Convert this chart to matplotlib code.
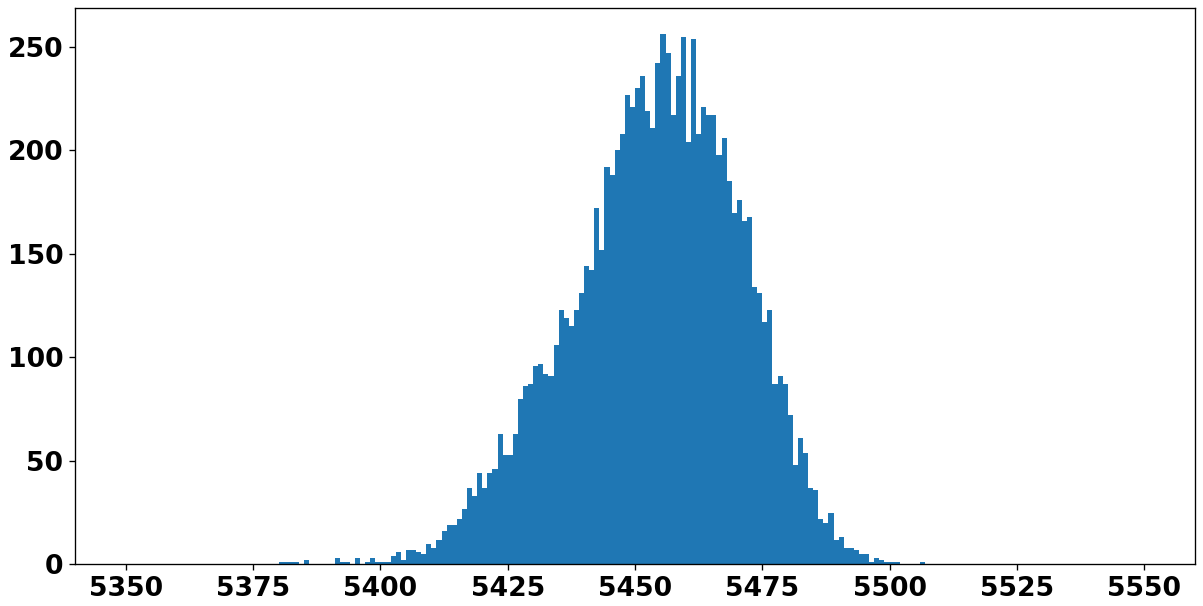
import numpy as np
import matplotlib
matplotlib.use("Agg")
import matplotlib.pyplot as plt

# histogram counts per unit-wide bin, starting at 5380
first_bin = 5380
counts = [
    1, 1, 1, 1, 0, 2, 0, 0, 0, 0,          # 5380-5389
    0, 3, 1, 1, 0, 3, 0, 1, 3, 1,          # 5390-5399
    1, 1, 4, 6, 2, 7, 7, 6, 5, 10,         # 5400-5409
    8, 12, 16, 19, 19, 22, 27, 37, 33, 44,  # 5410-5419
    37, 44, 46, 63, 53, 53, 63, 80, 86, 87,  # 5420-5429
    96, 97, 92, 91, 106, 123, 119, 115, 123, 131,  # 5430-5439
    144, 142, 172, 152, 192, 188, 200, 208, 227, 221,  # 5440-5449
    230, 236, 219, 211, 242, 256, 247, 217, 236, 255,  # 5450-5459
    204, 254, 208, 221, 217, 217, 198, 206, 185, 170,  # 5460-5469
    176, 166, 168, 134, 131, 117, 123, 87, 91, 87,  # 5470-5479
    72, 48, 61, 54, 37, 36, 22, 20, 25, 12,  # 5480-5489
    13, 8, 8, 7, 5, 5, 1, 3, 2, 1,          # 5490-5499
    1, 1, 0, 0, 0, 0, 1,                    # 5500-5506
]
x_range = (5340, 5560)

edges = np.arange(x_range[0], x_range[1] + 1)
bin_lefts = first_bin + np.arange(len(counts))

fig = plt.figure(figsize=(1203 / 120, 606 / 120), dpi=120)
ax = fig.add_axes([75 / 1203, 1 - 564.4 / 606, 1120 / 1203, 556.4 / 606])
ax.hist(bin_lefts + 0.5, bins=edges, weights=counts, color="#1f77b4")
ax.set_xlim(*x_range)
ax.set_xticks(np.arange(5350, 5551, 25))
for lab in ax.get_xticklabels() + ax.get_yticklabels():
    lab.set_fontsize(16)
    lab.set_fontweight("bold")

fig.savefig("out.png", dpi=120)
